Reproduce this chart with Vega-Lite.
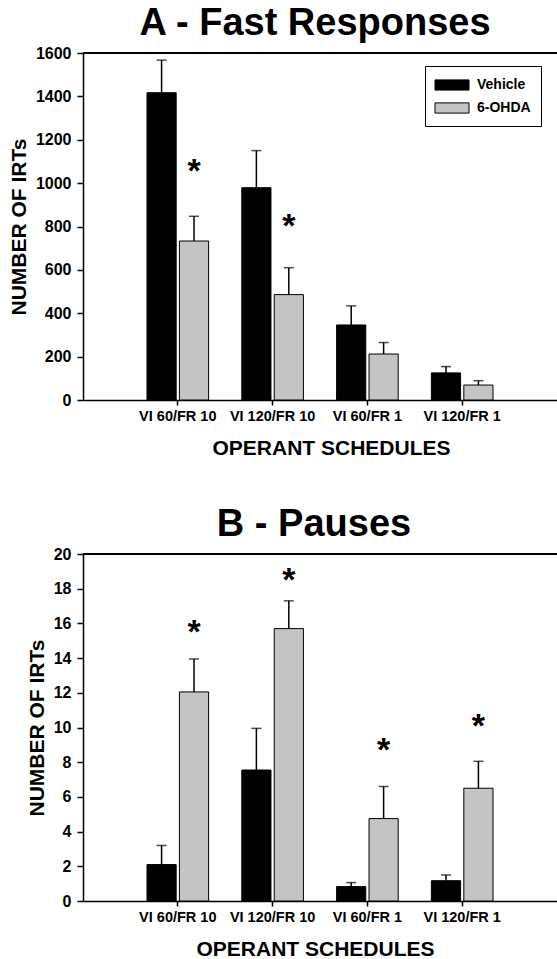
{
  "$schema": "https://vega.github.io/schema/vega-lite/v6.json",
  "background": "white",
  "padding": {"left": 8, "top": 5, "right": 0, "bottom": 5},
  "spacing": 47,
  "config": {
    "font": "Liberation Sans",
    "view": {"stroke": null},
    "axis": {"domainColor": "black", "tickColor": "black", "labelColor": "black", "titleColor": "black", "labelFontWeight": "bold", "titleFontWeight": "bold", "grid": false, "domainWidth": 1.5, "tickWidth": 1.5},
    "legend": {"orient": "none", "strokeColor": "black", "strokeWidth": 1, "padding": 10, "fillColor": "white", "symbolType": "M-2,-0.6H2V0.6H-2Z", "symbolSize": 289, "symbolStrokeColor": "black", "symbolStrokeWidth": 1, "symbolOpacity": 1, "symbolOffset": 8, "labelFontSize": 14, "labelFontWeight": "bold", "labelColor": "black", "labelOffset": 16, "rowPadding": 6}
  },
  "vconcat": [
    {
      "width": 474,
      "height": 347,
      "title": {"text": "A - Fast Responses", "fontSize": 38, "fontWeight": "bold", "anchor": "middle", "dx": -5, "offset": 2, "color": "black"},
      "data": {"values": [
        {"schedule": "VI 60/FR 10", "group": "Vehicle", "value": 1417, "upper": 1567, "star": null},
        {"schedule": "VI 60/FR 10", "group": "6-OHDA", "value": 733, "upper": 847, "star": 1076},
        {"schedule": "VI 120/FR 10", "group": "Vehicle", "value": 979, "upper": 1150, "star": null},
        {"schedule": "VI 120/FR 10", "group": "6-OHDA", "value": 486, "upper": 610, "star": 822},
        {"schedule": "VI 60/FR 1", "group": "Vehicle", "value": 346, "upper": 434, "star": null},
        {"schedule": "VI 60/FR 1", "group": "6-OHDA", "value": 212, "upper": 265, "star": null},
        {"schedule": "VI 120/FR 1", "group": "Vehicle", "value": 125, "upper": 154, "star": null},
        {"schedule": "VI 120/FR 1", "group": "6-OHDA", "value": 69, "upper": 89, "star": null}
      ]},
      "layer": [
        {
          "mark": {"type": "bar", "stroke": "black", "strokeWidth": 1},
          "encoding": {
            "x": {"field": "schedule", "type": "nominal", "sort": ["VI 60/FR 10", "VI 120/FR 10", "VI 60/FR 1", "VI 120/FR 1"], "scale": {"paddingInner": 0.35, "paddingOuter": 0.675}, "axis": {"title": "OPERANT SCHEDULES", "labelAngle": 0, "labelFontSize": 14.5, "titleFontSize": 21, "tickSize": 5, "labelPadding": 4, "titlePadding": 15, "titleX": 248}},
            "xOffset": {"field": "group", "type": "nominal", "sort": ["Vehicle", "6-OHDA"], "scale": {"paddingInner": 0.1}},
            "y": {"field": "value", "type": "quantitative", "title": "NUMBER OF IRTs", "scale": {"domain": [0, 1600], "nice": false}, "axis": {"title": "NUMBER OF IRTs", "format": "d", "tickCount": 8, "labelFontSize": 16, "titleFontSize": 21, "tickSize": 6, "labelPadding": 6, "titlePadding": 6}},
            "color": {"field": "group", "type": "nominal", "sort": ["Vehicle", "6-OHDA"], "scale": {"domain": ["Vehicle", "6-OHDA"], "range": ["black", "#c4c4c4"]}, "legend": {"title": null, "legendX": 342, "legendY": 13}}
          }
        },
        {
          "mark": {"type": "rule", "color": "black", "strokeWidth": 1.5},
          "encoding": {
            "x": {"field": "schedule", "type": "nominal", "sort": ["VI 60/FR 10", "VI 120/FR 10", "VI 60/FR 1", "VI 120/FR 1"]},
            "xOffset": {"field": "group", "type": "nominal", "sort": ["Vehicle", "6-OHDA"]},
            "y": {"field": "value", "type": "quantitative", "title": "NUMBER OF IRTs"},
            "y2": {"field": "upper"}
          }
        },
        {
          "mark": {"type": "tick", "color": "black", "thickness": 1.5, "size": 10},
          "encoding": {
            "x": {"field": "schedule", "type": "nominal", "sort": ["VI 60/FR 10", "VI 120/FR 10", "VI 60/FR 1", "VI 120/FR 1"]},
            "xOffset": {"field": "group", "type": "nominal", "sort": ["Vehicle", "6-OHDA"]},
            "y": {"field": "upper", "type": "quantitative", "title": "NUMBER OF IRTs"}
          }
        },
        {
          "transform": [{"filter": "datum.star != null"}],
          "mark": {"type": "text", "text": "*", "fontSize": 34, "fontWeight": "bold", "baseline": "alphabetic", "dy": 15, "color": "black"},
          "encoding": {
            "x": {"field": "schedule", "type": "nominal", "sort": ["VI 60/FR 10", "VI 120/FR 10", "VI 60/FR 1", "VI 120/FR 1"]},
            "xOffset": {"field": "group", "type": "nominal", "sort": ["Vehicle", "6-OHDA"]},
            "y": {"field": "star", "type": "quantitative", "title": "NUMBER OF IRTs"}
          }
        },
        {
          "mark": {"type": "rule", "color": "black", "strokeWidth": 1.5},
          "encoding": {"y": {"datum": 1600}}
        }
      ]
    },
    {
      "width": 474,
      "height": 347,
      "title": {"text": "B - Pauses", "fontSize": 38, "fontWeight": "bold", "anchor": "middle", "dx": -6, "offset": 2, "color": "black"},
      "data": {"values": [
        {"schedule": "VI 60/FR 10", "group": "Vehicle", "value": 2.1, "upper": 3.2, "star": null},
        {"schedule": "VI 60/FR 10", "group": "6-OHDA", "value": 12.05, "upper": 13.95, "star": 15.75},
        {"schedule": "VI 120/FR 10", "group": "Vehicle", "value": 7.55, "upper": 9.95, "star": null},
        {"schedule": "VI 120/FR 10", "group": "6-OHDA", "value": 15.7, "upper": 17.3, "star": 18.75},
        {"schedule": "VI 60/FR 1", "group": "Vehicle", "value": 0.83, "upper": 1.06, "star": null},
        {"schedule": "VI 60/FR 1", "group": "6-OHDA", "value": 4.75, "upper": 6.6, "star": 8.95},
        {"schedule": "VI 120/FR 1", "group": "Vehicle", "value": 1.17, "upper": 1.5, "star": null},
        {"schedule": "VI 120/FR 1", "group": "6-OHDA", "value": 6.5, "upper": 8.05, "star": 10.3}
      ]},
      "layer": [
        {
          "mark": {"type": "bar", "stroke": "black", "strokeWidth": 1},
          "encoding": {
            "x": {"field": "schedule", "type": "nominal", "sort": ["VI 60/FR 10", "VI 120/FR 10", "VI 60/FR 1", "VI 120/FR 1"], "scale": {"paddingInner": 0.35, "paddingOuter": 0.675}, "axis": {"title": "OPERANT SCHEDULES", "labelAngle": 0, "labelFontSize": 14.5, "titleFontSize": 21, "tickSize": 5, "labelPadding": 4, "titlePadding": 15, "titleX": 232}},
            "xOffset": {"field": "group", "type": "nominal", "sort": ["Vehicle", "6-OHDA"], "scale": {"paddingInner": 0.1}},
            "y": {"field": "value", "type": "quantitative", "title": "NUMBER OF IRTs", "scale": {"domain": [0, 20], "nice": false}, "axis": {"title": "NUMBER OF IRTs", "format": "d", "tickCount": 10, "labelFontSize": 16, "titleFontSize": 21, "tickSize": 6, "labelPadding": 6, "titlePadding": 6}},
            "color": {"field": "group", "type": "nominal", "sort": ["Vehicle", "6-OHDA"], "scale": {"domain": ["Vehicle", "6-OHDA"], "range": ["black", "#c4c4c4"]}, "legend": {"title": null, "legendX": 349, "legendY": 10}}
          }
        },
        {
          "mark": {"type": "rule", "color": "black", "strokeWidth": 1.5},
          "encoding": {
            "x": {"field": "schedule", "type": "nominal", "sort": ["VI 60/FR 10", "VI 120/FR 10", "VI 60/FR 1", "VI 120/FR 1"]},
            "xOffset": {"field": "group", "type": "nominal", "sort": ["Vehicle", "6-OHDA"]},
            "y": {"field": "value", "type": "quantitative", "title": "NUMBER OF IRTs"},
            "y2": {"field": "upper"}
          }
        },
        {
          "mark": {"type": "tick", "color": "black", "thickness": 1.5, "size": 10},
          "encoding": {
            "x": {"field": "schedule", "type": "nominal", "sort": ["VI 60/FR 10", "VI 120/FR 10", "VI 60/FR 1", "VI 120/FR 1"]},
            "xOffset": {"field": "group", "type": "nominal", "sort": ["Vehicle", "6-OHDA"]},
            "y": {"field": "upper", "type": "quantitative", "title": "NUMBER OF IRTs"}
          }
        },
        {
          "transform": [{"filter": "datum.star != null"}],
          "mark": {"type": "text", "text": "*", "fontSize": 34, "fontWeight": "bold", "baseline": "alphabetic", "dy": 15, "color": "black"},
          "encoding": {
            "x": {"field": "schedule", "type": "nominal", "sort": ["VI 60/FR 10", "VI 120/FR 10", "VI 60/FR 1", "VI 120/FR 1"]},
            "xOffset": {"field": "group", "type": "nominal", "sort": ["Vehicle", "6-OHDA"]},
            "y": {"field": "star", "type": "quantitative", "title": "NUMBER OF IRTs"}
          }
        },
        {
          "mark": {"type": "rule", "color": "black", "strokeWidth": 1.5},
          "encoding": {"y": {"datum": 20}}
        }
      ]
    }
  ]
}
